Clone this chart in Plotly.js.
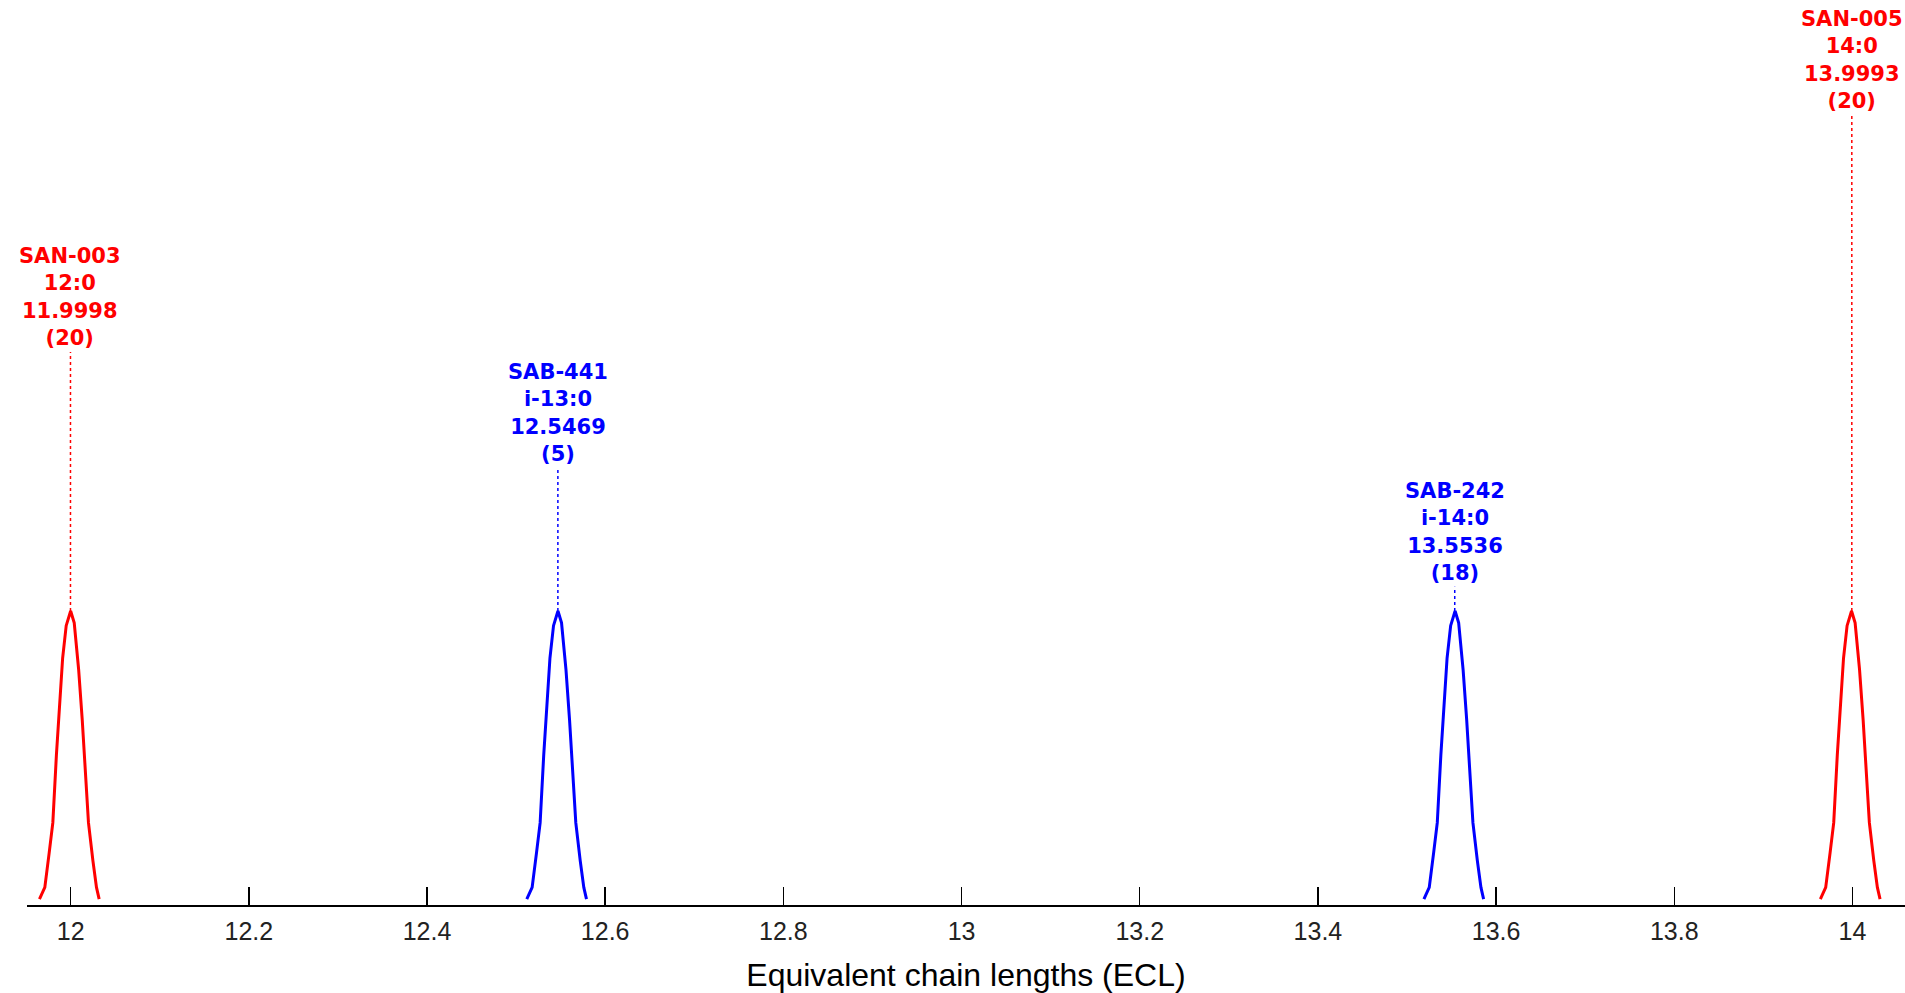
<!DOCTYPE html>
<html>
<head>
<meta charset="utf-8">
<script src="https://cdn.plot.ly/plotly-3.0.1.min.js"></script>
<style>html,body{margin:0;padding:0;background:#fff;}#chart{width:1905px;height:993px;}</style>
</head>
<body>
<div id="chart"></div>
<script>
// Peak data (ECL position vs relative response)
const peak1X = [11.965, 11.971, 11.976, 11.980, 11.984, 11.988, 11.991, 11.995, 12.000, 12.004, 12.009, 12.013, 12.016, 12.020, 12.025, 12.029, 12.032];
const peak2X = [12.512, 12.518, 12.523, 12.527, 12.531, 12.535, 12.538, 12.542, 12.547, 12.551, 12.556, 12.560, 12.563, 12.567, 12.572, 12.576, 12.579];
const peak3X = [13.519, 13.525, 13.530, 13.534, 13.538, 13.542, 13.545, 13.549, 13.554, 13.558, 13.563, 13.567, 13.570, 13.574, 13.579, 13.583, 13.586];
const peak4X = [13.964, 13.970, 13.975, 13.979, 13.983, 13.987, 13.990, 13.994, 13.999, 14.003, 14.008, 14.012, 14.015, 14.019, 14.024, 14.028, 14.031];
const peak1Y = [0.02, 0.06, 0.18, 0.28, 0.51, 0.68, 0.84, 0.95, 1.00, 0.96, 0.80, 0.63, 0.48, 0.28, 0.15, 0.06, 0.02];
const peak2Y = [0.02, 0.06, 0.18, 0.28, 0.51, 0.68, 0.84, 0.95, 1.00, 0.96, 0.80, 0.63, 0.48, 0.28, 0.15, 0.06, 0.02];
const peak3Y = [0.02, 0.06, 0.18, 0.28, 0.51, 0.68, 0.84, 0.95, 1.00, 0.96, 0.80, 0.63, 0.48, 0.28, 0.15, 0.06, 0.02];
const peak4Y = [0.02, 0.06, 0.18, 0.28, 0.51, 0.68, 0.84, 0.95, 1.00, 0.96, 0.80, 0.63, 0.48, 0.28, 0.15, 0.06, 0.02];

// Labels for each peak
const peakCenters = [11.9998, 12.5469, 13.5536, 13.9993];
const peakTops = [1.0, 1.0, 1.0, 1.0];
const labelHeights = [1.881, 1.486, 1.082, 2.687];
const peakIds = ["SAN-003", "SAB-441", "SAB-242", "SAN-005"];
const peakNames = ["12:0", "i-13:0", "i-14:0", "14:0"];
const peakEcl = ["11.9998", "12.5469", "13.5536", "13.9993"];
const peakCounts = ["(20)", "(5)", "(18)", "(20)"];
const peakColors = ["#ff0000", "#0000ff", "#0000ff", "#ff0000"];

// Axis ticks
const tickVals = [12, 12.2, 12.4, 12.6, 12.8, 13, 13.2, 13.4, 13.6, 13.8, 14];
const tickText = ["12", "12.2", "12.4", "12.6", "12.8", "13", "13.2", "13.4", "13.6", "13.8", "14"];

const peaksX = [peak1X, peak2X, peak3X, peak4X];
const peaksY = [peak1Y, peak2Y, peak3Y, peak4Y];

const traces = [];
const annotations = [];
for (let i = 0; i < peaksX.length; i++) {
  traces.push({
    x: peaksX[i], y: peaksY[i], type: 'scatter', mode: 'lines',
    line: {color: peakColors[i], width: 3}, hoverinfo: 'skip', showlegend: false
  });
  traces.push({
    x: [peakCenters[i], peakCenters[i]], y: [peakTops[i], labelHeights[i]],
    type: 'scatter', mode: 'lines',
    line: {color: peakColors[i], width: 1.5, dash: 'dot'}, hoverinfo: 'skip', showlegend: false
  });
  annotations.push({
    x: peakCenters[i], y: labelHeights[i], xref: 'x', yref: 'y',
    xanchor: 'center', yanchor: 'bottom', showarrow: false, align: 'center',
    text: [peakIds[i], peakNames[i], peakEcl[i], peakCounts[i]].join('<br>'),
    font: {family: 'DejaVu Sans', size: 21, color: peakColors[i], weight: 'bold'},
    borderpad: 1
  });
}

const layout = {
  width: 1905, height: 993,
  margin: {l: 27, r: 0, t: 0, b: 88},
  paper_bgcolor: '#ffffff', plot_bgcolor: '#ffffff',
  showlegend: false,
  xaxis: {
    range: [11.951, 14.059],
    tickvals: tickVals, ticktext: tickText,
    ticks: 'inside', ticklen: 18, tickwidth: 1.5, tickcolor: '#000',
    ticklabelstandoff: 3,
    showline: true, linecolor: '#000', linewidth: 1.5,
    showgrid: false, zeroline: false,
    tickfont: {family: 'Liberation Sans', size: 25, color: '#222'},
    title: {text: 'Equivalent chain lengths (ECL)', font: {family: 'Liberation Sans', size: 32, color: '#000'}},
    fixedrange: true
  },
  yaxis: {
    range: [0, 3.078], visible: false, fixedrange: true
  },
  annotations: annotations
};

Plotly.newPlot('chart', traces, layout, {displayModeBar: false, staticPlot: true});
</script>
</body>
</html>
